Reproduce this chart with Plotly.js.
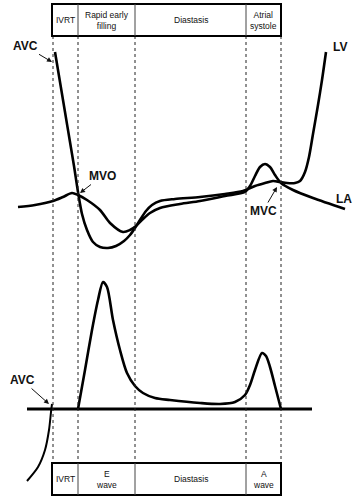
<!DOCTYPE html>
<html><head><meta charset="utf-8">
<script src="https://cdn.plot.ly/plotly-3.0.1.min.js"></script>
<style>html,body{margin:0;padding:0;background:#fff;}#chart{width:364px;height:500px;}</style>
</head><body><div id="chart"></div>
<script>
// Schematic coordinates (x = time units, y = vertical units, top-down)
const phaseBounds = [52, 78, 135, 246, 281];
const topLabels = ["IVRT", "Rapid early<br>filling", "Diastasis", "Atrial<br>systole"];
const bottomLabels = ["IVRT", "E<br>wave", "Diastasis", "A<br>wave"];

const lvX = [55,60,65,70,74,78,82,87,93,100,108,116,124,130,135,140,146,152,160,175,200,225,243,255,265,273,280,287,295,300,305,309,313,318,322,326];
const lvY = [52,82,112,142,166,192,214,230,242,247,248,246,241,235,228,220,211,205,201,199,197,194,191,186,183,181,182,183,183,181,172,157,134,105,80,52];

const laX = [18,35,53,63,72,78,87,100,110,123,130,136,143,150,160,180,200,225,245,250,255,260,265,270,275,281,293,313,345];
const laY = [207,205,201,197,193,195,200,210,223,232,230,226,219,213,208,204,201,196,192,186,176,167,164,167,175,183,190,198,209];

const flowX = [78,85,92,98,103,107,113,120,127,135,143,155,170,200,220,235,245,250,255,262,266,270,275,281];
const flowY = [409,370,330,300,282,287,320,350,373,386,393,398,400,403,404,402,395,385,370,353,356,367,386,409];

const avcX = [52,51,49,45,38,27];
const avcY = [404,412,430,450,467,481];

const baseX = [27, 312];
const baseY = [409, 409];

const FONT = "Liberation Sans, Arial, sans-serif";
const line = (w) => ({color: "#000", width: w, shape: "spline", smoothing: 0.8});

const traces = [
  {x: lvX, y: lvY, mode: "lines", line: line(2.6), hoverinfo: "skip"},
  {x: laX, y: laY, mode: "lines", line: line(2.6), hoverinfo: "skip"},
  {x: flowX, y: flowY, mode: "lines", line: line(2.6), hoverinfo: "skip"},
  {x: avcX, y: avcY, mode: "lines", line: line(2), hoverinfo: "skip"},
  {x: baseX, y: baseY, mode: "lines", line: {color: "#000", width: 3.2}, hoverinfo: "skip"}
];

const shapes = [];
// dotted phase lines
phaseBounds.forEach((b, i) => {
  shapes.push({type: "line", xref: "x", yref: "y", x0: i === 0 ? b + 1 : b, x1: i === 0 ? b + 1 : b, y0: 36, y1: 463,
    line: {color: "#222", width: 1, dash: "dot"}});
});
// boxes
[[4, 36], [463, 495]].forEach(([y0, y1]) => {
  shapes.push({type: "rect", xref: "x", yref: "y", x0: phaseBounds[0], x1: phaseBounds[phaseBounds.length - 1], y0: y0, y1: y1,
    line: {color: "#000", width: 2}});
  for (let i = 1; i < phaseBounds.length - 1; i++) {
    shapes.push({type: "line", xref: "x", yref: "y", x0: phaseBounds[i], x1: phaseBounds[i], y0: y0, y1: y1,
      line: {color: "#444", width: 1}});
  }
});

const annotations = [];
const boxText = (labels, yc) => labels.forEach((t, i) => {
  annotations.push({x: (phaseBounds[i] + phaseBounds[i + 1]) / 2, y: yc, xref: "x", yref: "y", text: t,
    showarrow: false, font: {family: FONT, size: 8.5, color: "#111"}, align: "center"});
});
boxText(topLabels, 20);
boxText(bottomLabels, 479);

const bold = {family: FONT, size: 12, color: "#111", weight: "bold"};
const arrowLabel = (t, tx, ty, hx, hy) => annotations.push({
  x: hx, y: hy, ax: tx, ay: ty, xref: "x", yref: "y", axref: "x", ayref: "y",
  text: "<b>" + t + "</b>", font: bold, showarrow: true, arrowhead: 2, arrowsize: 1, arrowwidth: 1, arrowcolor: "#111", standoff: 0
});
arrowLabel("AVC", 25, 46, 52, 62);
arrowLabel("MVO", 102, 176, 80, 193);
arrowLabel("MVC", 263, 211, 277, 187);
arrowLabel("AVC", 22, 380, 49, 404);
annotations.push({x: 340, y: 47, xref: "x", yref: "y", text: "<b>LV</b>", showarrow: false, font: bold});
annotations.push({x: 344, y: 199, xref: "x", yref: "y", text: "<b>LA</b>", showarrow: false, font: bold});

const layout = {
  width: 364, height: 500,
  margin: {l: 0, r: 0, t: 0, b: 0},
  paper_bgcolor: "#fff", plot_bgcolor: "#fff",
  showlegend: false,
  xaxis: {range: [0, 364], visible: false, fixedrange: true},
  yaxis: {range: [500, 0], visible: false, fixedrange: true},
  shapes: shapes,
  annotations: annotations
};
Plotly.newPlot("chart", traces, layout, {staticPlot: true, displayModeBar: false});
</script>
</body></html>
